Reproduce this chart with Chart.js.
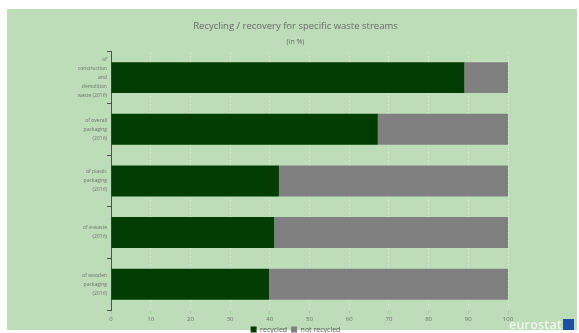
<!DOCTYPE html>
<html><head><meta charset="utf-8">
<title>Recycling / recovery</title>
<script src="https://cdn.jsdelivr.net/npm/chart.js"></script>
<style>
    body { margin: 0; background: #ffffff; font-family: 'Open Sans', sans-serif; }
    .bg { position: absolute; left: 7px; top: 9px; width: 570px; height: 321px; background: #bddcb8; }
    .wrap { position: absolute; left: 0; top: 0; width: 579px; height: 333px; }
    .logo { position: absolute; left: 509px; top: 317px; height: 14px; display: flex; align-items: center; }
    .logo span { color: #f2f7f1; font: 600 12.5px 'Open Sans', sans-serif; letter-spacing: 0.2px; }
    .logo i { display: inline-block; width: 11px; height: 11px; background: #1d4fa8; margin-left: 1px; }
</style></head>
<body>
<div class="bg"></div>
<div class="wrap"><canvas id="grafico" width="579" height="333"></canvas></div>
<div class="logo"><span>eurostat</span><i></i></div>
<script>
// --- DADOS ---
const categorias = [
    ['of', 'construction', 'and', 'demolition', 'waste (2016)'],
    ['of overall', 'packaging', '(2016)'],
    ['of plastic', 'packaging', '(2016)'],
    ['of e-waste', '(2016)'],
    ['of wooden', 'packaging', '(2016)']
];
const reciclado = [89, 67.2, 42.3, 41.1, 39.8];
const naoReciclado = reciclado.map(v => 100 - v);
const ticksX = [0, 10, 20, 30, 40, 50, 60, 70, 80, 90, 100];

const ctx = document.getElementById('grafico').getContext('2d');
new Chart(ctx, {
    type: 'bar',
    data: {
        labels: categorias,
        datasets: [
            { label: 'recycled', data: reciclado, backgroundColor: '#013c02', barPercentage: 0.6, categoryPercentage: 1 },
            { label: 'not recycled', data: naoReciclado, backgroundColor: '#808080', barPercentage: 0.6, categoryPercentage: 1 }
        ]
    },
    options: {
        indexAxis: 'y',
        responsive: false,
        animation: false,
        layout: { padding: { left: 12, right: 0, top: 0, bottom: -10 } },
        scales: {
            x: {
                stacked: true, min: 0, max: 100,
                afterBuildTicks: s => { s.ticks = ticksX.map(v => ({ value: v })); },
                afterFit: s => { s.height = 12; },
                border: { display: false, dash: [2, 2] },
                grid: { color: 'rgba(228,240,226,0.6)', tickLength: 4, tickColor: 'rgba(160,180,160,0.5)' },
                ticks: { color: '#707070', font: { family: 'Open Sans', size: 6 }, padding: 2 }
            },
            y: {
                stacked: true,
                afterFit: s => { s.width = 99; },
                border: { color: '#505050', width: 1 },
                grid: { drawOnChartArea: false, offset: true, tickLength: 4, color: '#505050' },
                ticks: { color: '#707070', font: { family: 'Open Sans', size: 5, lineHeight: 1.8 }, padding: 0 }
            },
            // margem direita, para o título e a legenda ficarem centrados
            margem: {
                type: 'linear', axis: 'y', position: 'right',
                afterFit: s => { s.width = 71; },
                grid: { display: false }, border: { display: false }, ticks: { display: false }
            }
        },
        plugins: {
            title: { display: true, text: 'Recycling / recovery for specific waste streams', color: '#6a6a6a',
                font: { family: 'Open Sans', size: 9.5, weight: 'normal' }, padding: { top: 21, bottom: 2 } },
            subtitle: { display: true, text: '(in %)', color: '#6a6a6a',
                font: { family: 'Open Sans', size: 7 }, padding: { top: 3, bottom: 6 } },
            legend: { position: 'bottom', labels: { color: '#555', boxWidth: 6, boxHeight: 6, padding: 4,
                font: { family: 'Open Sans', size: 7 } } },
            tooltip: { enabled: false }
        }
    }
});
</script></body></html>
